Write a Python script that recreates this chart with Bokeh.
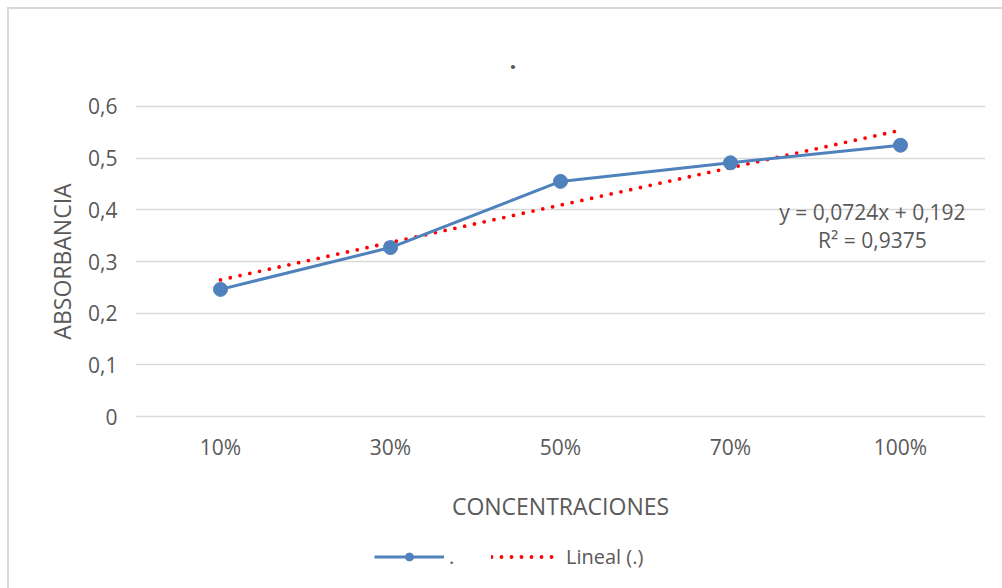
from bokeh.plotting import figure
from bokeh.layouts import column
from bokeh.models import (FactorRange, Range1d, FixedTicker, Label, Legend, LegendItem)
from bokeh.embed import file_html
from bokeh.resources import INLINE

# Absorbance readings per concentration
concentrations = ["10%", "30%", "50%", "70%", "100%"]
absorbance = [0.246, 0.327, 0.455, 0.491, 0.525]

# Linear trend (Excel-style, x = 1..n)
slope = 0.0724
intercept = 0.192
r_squared = 0.9375

y_ticks = [0, 0.1, 0.2, 0.3, 0.4, 0.5, 0.6]
y_tick_labels = ["0", "0,1", "0,2", "0,3", "0,4", "0,5", "0,6"]

series_label = "."
trend_label = "Lineal (.)"

FONT = "Open Sans"
TXT = "#595959"
BLUE = "#4F81BD"
RED = "#FF0000"
GRID = "#D9D9D9"

BORDER_L, BORDER_R = 126, 17

p = figure(
    width=993, height=515,
    x_range=FactorRange(*concentrations, range_padding=0),
    y_range=Range1d(-0.0116, 0.6116),
    output_backend="svg", toolbar_location=None,
    min_border_left=BORDER_L, min_border_right=BORDER_R,
    min_border_top=91, min_border_bottom=102,
)
p.outline_line_color = None
p.background_fill_color = "white"
p.border_fill_color = "white"

# chart title (a single dot)
p.title.text = "."
p.title.align = "left"
p.title.offset = 374
p.title.standoff = 64
p.title.text_font = FONT
p.title.text_font_size = "24px"
p.title.text_font_style = "bold"
p.title.text_color = TXT

# grid
p.xgrid.grid_line_color = None
p.ygrid.grid_line_color = GRID
p.ygrid.grid_line_width = 1.3
p.yaxis.ticker = FixedTicker(ticks=y_ticks)
p.yaxis.major_label_overrides = {t: l for t, l in zip(y_ticks, y_tick_labels)}

for ax in (p.xaxis, p.yaxis):
    ax.axis_line_color = None
    ax.major_tick_line_color = None
    ax.minor_tick_line_color = None
    ax.major_tick_out = 0
    ax.major_label_text_font = FONT
    ax.major_label_text_color = TXT
    ax.major_label_text_font_size = "21px"
    ax.axis_label_text_font = FONT
    ax.axis_label_text_color = TXT
    ax.axis_label_text_font_size = "23px"
    ax.axis_label_text_font_style = "normal"

p.xaxis.axis_label = "CONCENTRACIONES"
p.xaxis.major_label_standoff = 10
p.xaxis.axis_label_standoff = 26
p.yaxis.axis_label = "ABSORBANCIA"
p.yaxis.major_label_standoff = 18
p.yaxis.axis_label_standoff = 7

# data series
xs = list(concentrations)
line_style = dict(line_color=BLUE, line_width=3)
dot_style = dict(size=14, fill_color=BLUE, line_color=BLUE)
trend_style = dict(line_color=RED, line_width=3.8, line_dash="0 10", line_cap="round")

line_r = p.line(xs, absorbance, **line_style)
pts_r = p.scatter(xs, absorbance, **dot_style)

# trend line evaluated at category index 1..n
idx = [i + 1 for i in range(len(concentrations))]
trend = [slope * i + intercept for i in idx]
trend_r = p.line(xs, trend, **trend_style)
p.renderers = [trend_r, line_r, pts_r]

# trend equation
eq1 = "y = " + f"{slope:.4f}".replace(".", ",") + "x + " + f"{intercept:.3f}".replace(".", ",")
eq2 = "R² = " + f"{r_squared:.4f}".replace(".", ",")
for txt, yv in ((eq1, 0.395), (eq2, 0.342)):
    p.add_layout(Label(x=4.335, y=yv, text=txt, text_align="center",
                       text_baseline="middle", text_font=FONT,
                       text_font_size="21px", text_color=TXT))

# legend strip underneath the chart; its key renderers hold the same
# series but sit outside this strip's visible range
lg = figure(
    width=993, height=64, x_range=Range1d(-1, 0), y_range=Range1d(-1, 0),
    x_axis_type=None, y_axis_type=None,
    output_backend="svg", toolbar_location=None,
    min_border_left=BORDER_L, min_border_right=BORDER_R,
    min_border_top=0, min_border_bottom=0,
)
lg.outline_line_color = None
lg.xgrid.visible = False
lg.ygrid.visible = False
k_line = lg.line(idx, absorbance, **line_style)
k_pts = lg.scatter(idx, absorbance, **dot_style)
k_trend = lg.line(idx, trend, **trend_style)

legend = Legend(items=[
    LegendItem(label=series_label, renderers=[k_line, k_pts]),
    LegendItem(label=trend_label, renderers=[k_trend]),
], location="center_left", orientation="horizontal")
legend.label_text_font = FONT
legend.label_text_font_size = "20px"
legend.label_text_color = TXT
legend.glyph_width = 70
legend.border_line_color = None
legend.background_fill_alpha = 0
legend.spacing = 22
legend.margin = 239
lg.add_layout(legend)

page = column(p, lg, spacing=0,
              styles={"margin-left": "7px", "margin-top": "7px",
                      "border-left": "2px solid #D9D9D9",
                      "border-top": "2px solid #D9D9D9"})

open("out.html", "w").write(file_html(page, INLINE))
